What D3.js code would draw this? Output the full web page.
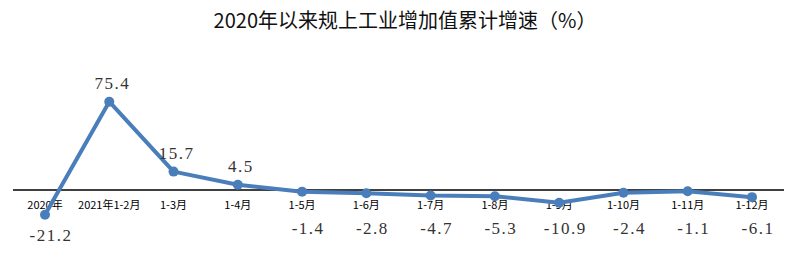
<!DOCTYPE html>
<html><head><meta charset="utf-8">
<script src="https://cdn.jsdelivr.net/npm/d3@7"></script>
<style>body{margin:0;background:#fff}svg{display:block}</style>
</head><body>
<script>
const categories = ["2020年","2021年1-2月","1-3月","1-4月","1-5月","1-6月","1-7月","1-8月","1-9月","1-10月","1-11月","1-12月"];
const values = [-21.2, 75.4, 15.7, 4.5, -1.4, -2.8, -4.7, -5.3, -10.9, -2.4, -1.1, -6.1];
const valueLabels = ["-21.2","75.4","15.7","4.5","-1.4","-2.8","-4.7","-5.3","-10.9","-2.4","-1.1","-6.1"];
const title = "2020年以来规上工业增加值累计增速（%）";

const W = 800, H = 273;
const svg = d3.select("body").append("svg").attr("width", W).attr("height", H);

const x = d3.scalePoint().domain(categories).range([45, 752]);
const y = d3.scaleLinear().domain([0, 75.4]).range([190, 101.7]);

svg.append("text").attr("x", 405).attr("y", 28).attr("text-anchor", "middle")
  .attr("font-family", "Noto Sans CJK SC").attr("font-size", 20).attr("font-weight", 400)
  .attr("fill", "#111").text(title);

svg.append("line").attr("x1", 13).attr("x2", 784).attr("y1", y(0)).attr("y2", y(0))
  .attr("stroke", "#000").attr("stroke-width", 1.5);

svg.append("g").selectAll("text").data(categories).join("text")
  .attr("x", d => x(d)).attr("y", 209).attr("text-anchor", "middle")
  .attr("font-family", "Noto Sans CJK SC").attr("font-size", 11).attr("fill", "#000")
  .text(d => d);

const line = d3.line().x((d, i) => x(categories[i])).y(d => y(d));
svg.append("path").datum(values).attr("d", line).attr("fill", "none")
  .attr("stroke", "#4a7ebb").attr("stroke-width", 4).attr("stroke-linejoin", "round");

svg.append("g").selectAll("circle").data(values).join("circle")
  .attr("cx", (d, i) => x(categories[i])).attr("cy", d => y(d)).attr("r", 5)
  .attr("fill", "#4a7ebb");

svg.append("g").selectAll("text").data(values).join("text")
  .attr("x", (d, i) => x(categories[i]) + (d >= 0 ? 3 : 6))
  .attr("y", d => d >= 0 ? y(d) - 13 : Math.max(y(d) + 26, 234))
  .attr("text-anchor", "middle")
  .attr("font-family", "Liberation Serif").attr("font-size", 17).attr("fill", "#333")
  .attr("letter-spacing", 1.5)
  .text((d, i) => valueLabels[i]);
</script>
</body></html>
